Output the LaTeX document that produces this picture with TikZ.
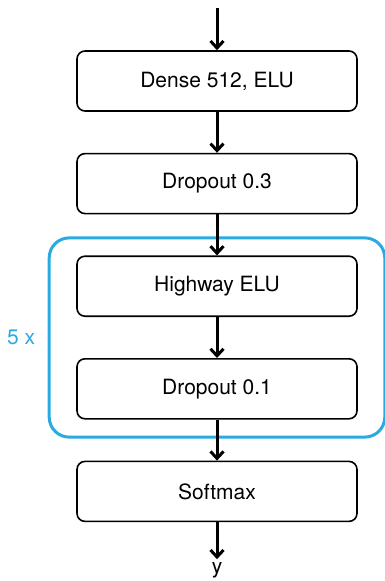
\documentclass[tikz,border=0pt]{standalone}
\usepackage{fontspec}
\setmainfont{TeX Gyre Heros}
\usetikzlibrary{arrows.meta,positioning,fit}
\definecolor{hwblue}{RGB}{41,171,226}

\begin{document}
\begin{tikzpicture}[x=1pt,y=-1pt,
        node distance=41pt,
        layer/.style={draw, line width=1.6pt, rounded corners=8pt, minimum width=280pt, minimum height=60pt, inner sep=0pt, font=\fontsize{21}{25}\selectfont},
        flow/.style={line width=3pt, -{Straight Barb[length=7pt,width=13pt,line width=3pt]}}]
        \useasboundingbox (0,0) rectangle (384,581);
        \coordinate (in) at (217,8);
        \node[layer] (dense) at (217,81) {Dense 512, ELU};
        \node[layer, below=of dense] (drop3) {Dropout 0.3};
        \node[layer, below=of drop3] (hw) {Highway ELU};
        \node[layer, below=of hw] (drop1) {Dropout 0.1};
        \node[layer, below=of drop1] (soft) {Softmax};
        \node[below=37pt of soft, inner sep=3pt, font=\fontsize{21}{25}\selectfont] (y) {y};
        \node[draw=hwblue, line width=3pt, rounded corners=20pt, inner xsep=27pt, inner ysep=17.5pt, fit=(hw) (drop1)] (loop) {};
        \node[left=9pt of loop, text=hwblue, font=\fontsize{21}{25}\selectfont] (reps) {5 x};
        \draw[flow] (in) -- (dense);
        \draw[flow] (dense) -- (drop3);
        \draw[flow] (drop3) -- (hw);
        \draw[flow] (hw) -- (drop1);
        \draw[flow] (drop1) -- (soft);
        \draw[flow] (soft) -- (y);
\end{tikzpicture}
\end{document}
